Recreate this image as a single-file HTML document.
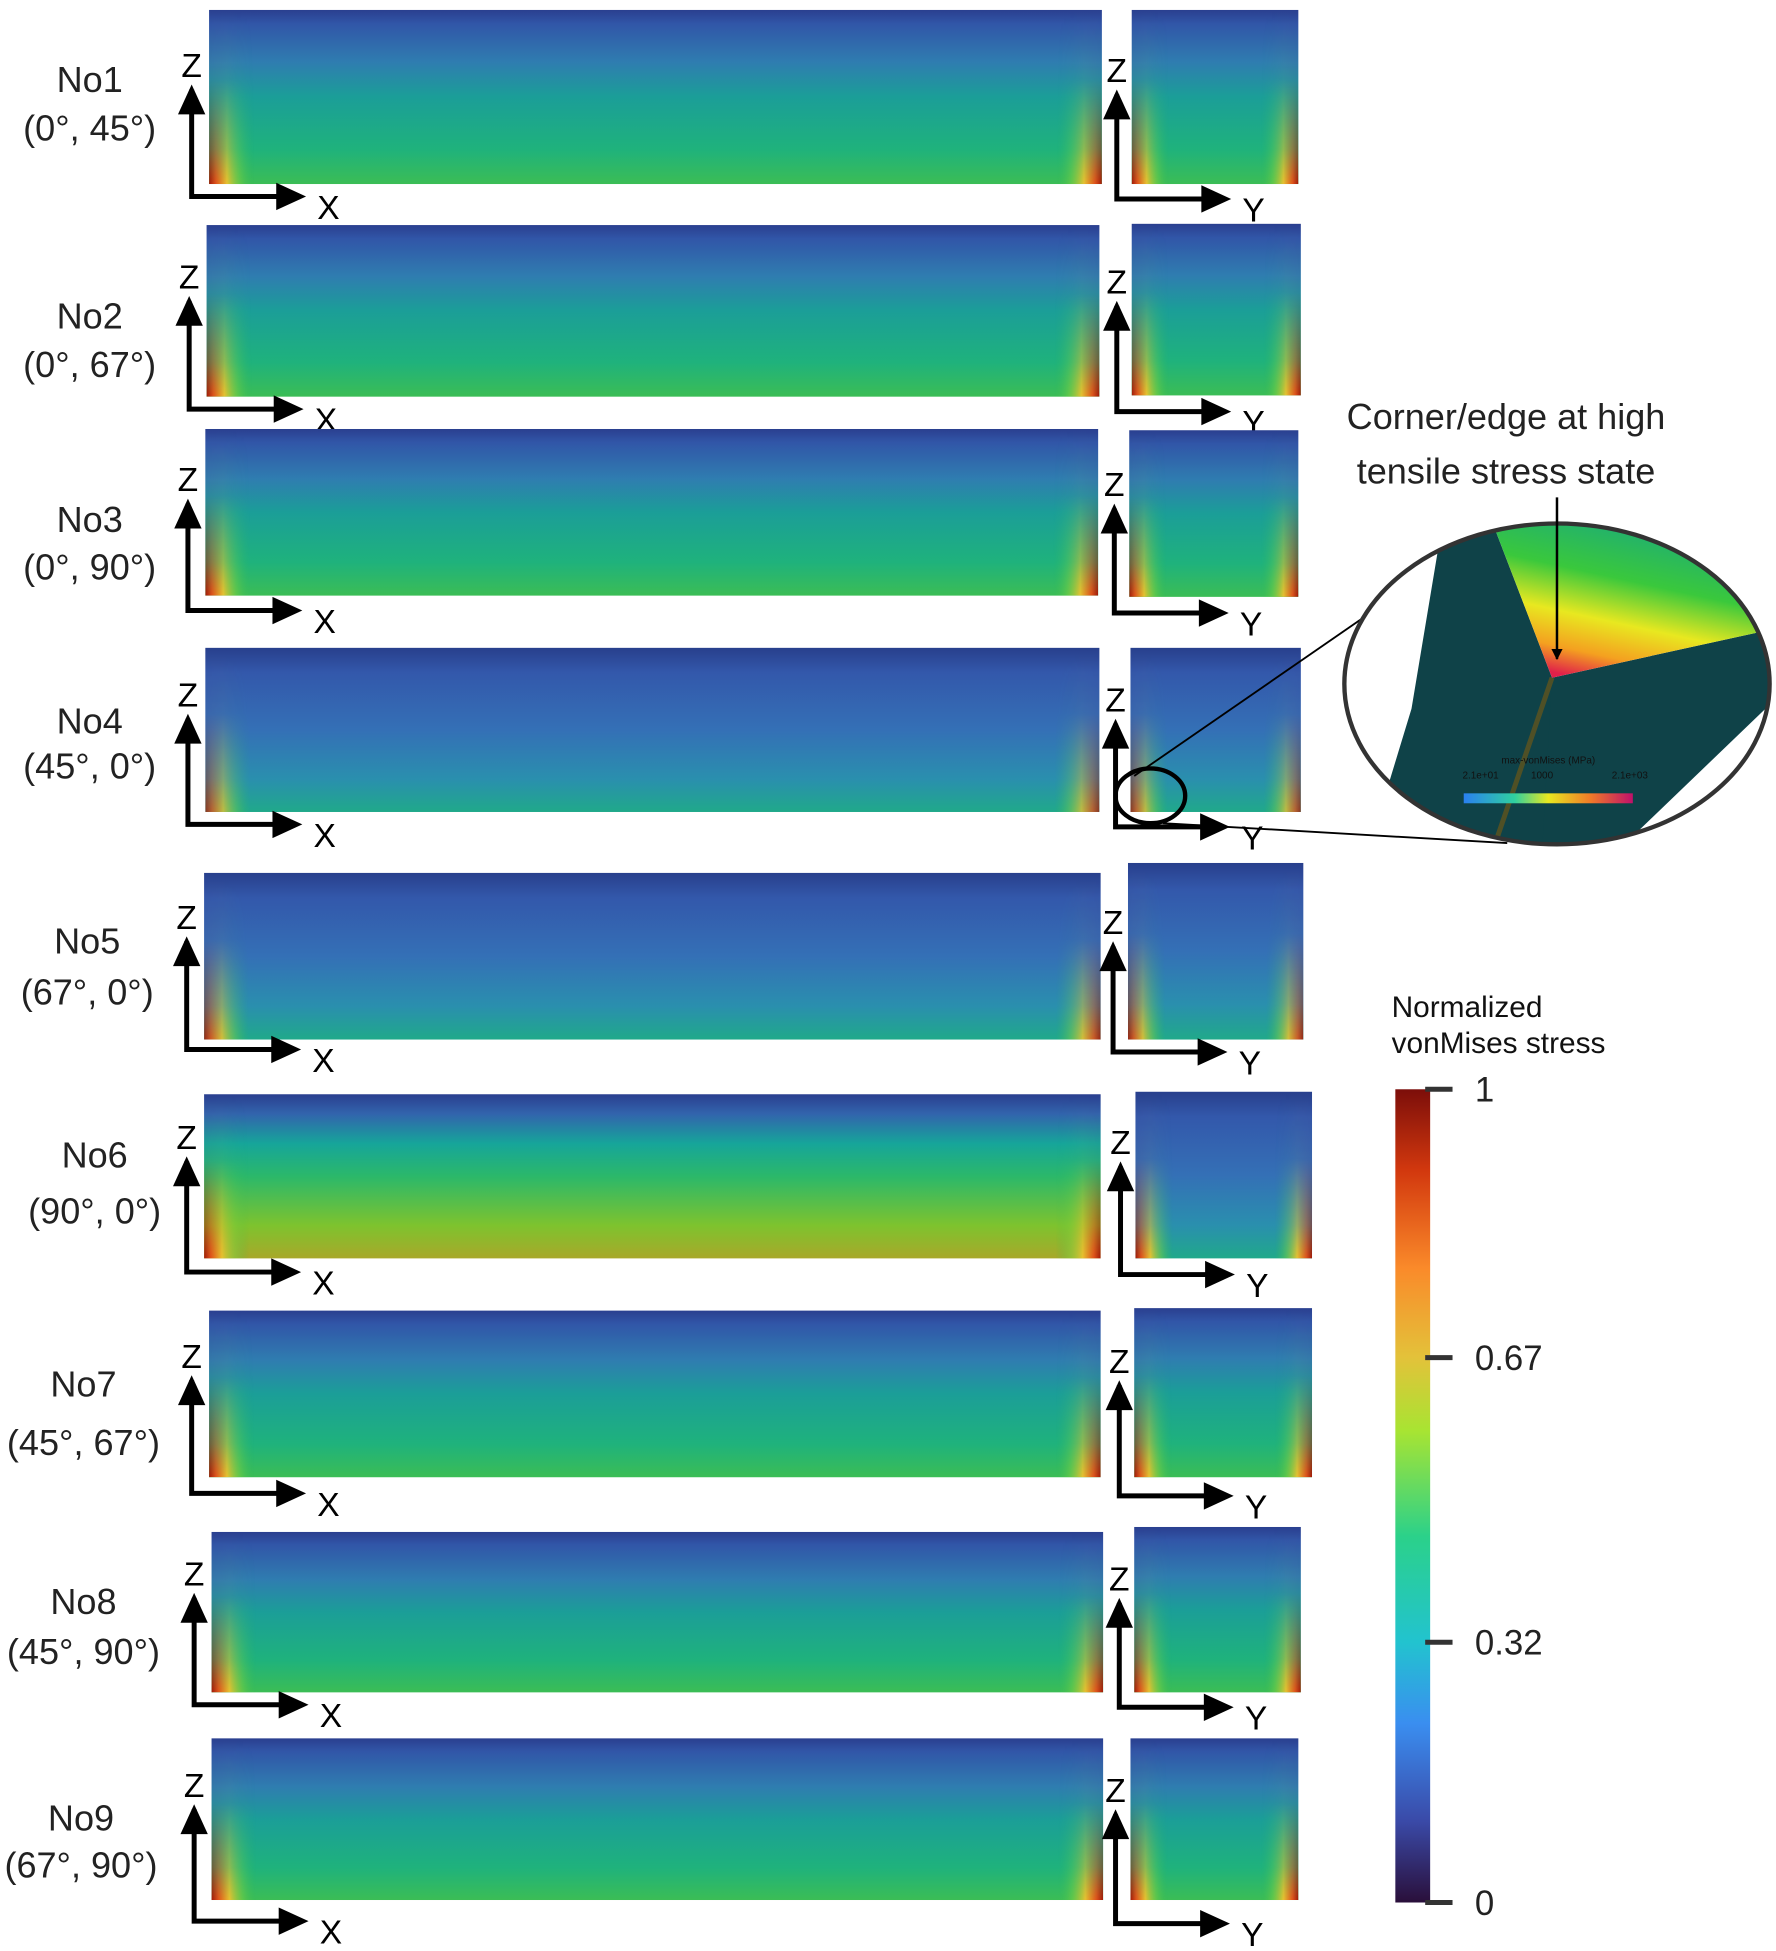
<!DOCTYPE html>
<html><head><meta charset="utf-8">
<style>
html,body{margin:0;padding:0;background:#fff;}
svg{display:block;}
text{font-family:"Liberation Sans","DejaVu Sans",sans-serif;}
</style></head>
<body>
<svg id="fig" width="1776" height="1951" viewBox="0 0 1428 1569" xmlns="http://www.w3.org/2000/svg">
<defs>
  <linearGradient id="gNormal" x1="0" y1="0" x2="0" y2="1">
    <stop offset="0" stop-color="#2a3f8f"/><stop offset="0.08" stop-color="#3156a8"/>
    <stop offset="0.3" stop-color="#2f7db0"/><stop offset="0.5" stop-color="#1b9e98"/>
    <stop offset="0.8" stop-color="#1fb27c"/><stop offset="1" stop-color="#3bbd55"/>
  </linearGradient>
  <linearGradient id="gBlue" x1="0" y1="0" x2="0" y2="1">
    <stop offset="0" stop-color="#283f8c"/><stop offset="0.15" stop-color="#3358ab"/>
    <stop offset="0.5" stop-color="#3470b6"/><stop offset="0.8" stop-color="#2a8fae"/>
    <stop offset="1" stop-color="#20a98a"/>
  </linearGradient>
  <linearGradient id="gGreen" x1="0" y1="0" x2="0" y2="1">
    <stop offset="0" stop-color="#2a3f8f"/><stop offset="0.12" stop-color="#3264ad"/>
    <stop offset="0.3" stop-color="#16a59a"/><stop offset="0.5" stop-color="#2bb86a"/>
    <stop offset="0.8" stop-color="#7ec32e"/><stop offset="1" stop-color="#a8a82a"/>
  </linearGradient>
  <linearGradient id="gEdgeL" x1="0" y1="0" x2="1" y2="0">
    <stop offset="0" stop-color="#a01808"/><stop offset="0.15" stop-color="#e0501a"/>
    <stop offset="0.4" stop-color="#e8c030"/><stop offset="0.7" stop-color="#7ed040" stop-opacity="0.5"/>
    <stop offset="1" stop-color="#3bbd55" stop-opacity="0"/>
  </linearGradient>
  <linearGradient id="gEdgeR" x1="1" y1="0" x2="0" y2="0">
    <stop offset="0" stop-color="#a01808"/><stop offset="0.15" stop-color="#e0501a"/>
    <stop offset="0.4" stop-color="#e8c030"/><stop offset="0.7" stop-color="#7ed040" stop-opacity="0.5"/>
    <stop offset="1" stop-color="#3bbd55" stop-opacity="0"/>
  </linearGradient>
  <linearGradient id="gFade" x1="0" y1="0" x2="0" y2="1">
    <stop offset="0" stop-color="#fff" stop-opacity="0"/><stop offset="0.4" stop-color="#fff" stop-opacity="0.05"/>
    <stop offset="0.8" stop-color="#fff" stop-opacity="0.55"/><stop offset="1" stop-color="#fff" stop-opacity="1"/>
  </linearGradient>
  <mask id="mFade" maskContentUnits="objectBoundingBox"><rect x="0" y="0" width="1" height="1" fill="url(#gFade)"/></mask>
  <linearGradient id="gBar" x1="0" y1="1" x2="0" y2="0">
    <stop offset="0" stop-color="#2a0f3a"/><stop offset="0.1" stop-color="#3a4aa8"/>
    <stop offset="0.22" stop-color="#3a8ef0"/><stop offset="0.32" stop-color="#22c3cf"/>
    <stop offset="0.45" stop-color="#2bd18a"/><stop offset="0.58" stop-color="#a8e432"/>
    <stop offset="0.67" stop-color="#e3c23a"/><stop offset="0.78" stop-color="#fa8a2a"/>
    <stop offset="0.9" stop-color="#d2380e"/><stop offset="1" stop-color="#7c0e0a"/>
  </linearGradient>
  <linearGradient id="gMini" x1="0" y1="0" x2="1" y2="0">
    <stop offset="0" stop-color="#2a80f0"/><stop offset="0.3" stop-color="#2fd0a0"/>
    <stop offset="0.5" stop-color="#e8e820"/><stop offset="0.75" stop-color="#f07a28"/>
    <stop offset="1" stop-color="#c0106a"/>
  </linearGradient>
  <linearGradient id="gWedge" x1="0.3" y1="1" x2="0.7" y2="0">
    <stop offset="0" stop-color="#e0204a"/><stop offset="0.15" stop-color="#f4a020"/>
    <stop offset="0.35" stop-color="#e8e820"/><stop offset="0.6" stop-color="#3ac83c"/>
    <stop offset="1" stop-color="#18a880"/>
  </linearGradient>
  <clipPath id="insetClip"><ellipse cx="1252" cy="550" rx="171" ry="129"/></clipPath>
  <marker id="ah" viewBox="0 0 10 10" refX="9" refY="5" markerWidth="4.5" markerHeight="4.5" orient="auto"><path d="M0,0 L10,5 L0,10 z" fill="#000"/></marker>
</defs>
<g id="panels"></g>
<g id="colorbar"></g>
<g id="inset">
  <ellipse cx="925" cy="640" rx="28" ry="22" fill="none" stroke="#000" stroke-width="3.5"/>
  <line x1="912" y1="624" x2="1135" y2="470" stroke="#000" stroke-width="1.5"/>
  <line x1="935" y1="662" x2="1212" y2="678" stroke="#000" stroke-width="1.5"/>
  <g clip-path="url(#insetClip)">
    <rect x="1080" y="420" width="350" height="265" fill="#fff"/>
    <polygon points="1135,570 1160,420 1200,420 1248,545 1280,685 1100,685" fill="#0f4248"/>
    <polygon points="1248,545 1430,505 1430,560 1300,685 1240,685" fill="#0f4248"/>
    <polygon points="1200,420 1430,420 1430,505 1248,545" fill="url(#gWedge)"/>
    <line x1="1248" y1="545" x2="1200" y2="685" stroke="#7a5a10" stroke-width="4" opacity="0.6"/>
    <text x="1245" y="614" font-size="8" text-anchor="middle" fill="#111">max-vonMises (MPa)</text>
    <text x="1176" y="626" font-size="8" fill="#111">2.1e+01</text>
    <text x="1240" y="626" font-size="8" text-anchor="middle" fill="#111">1000</text>
    <text x="1296" y="626" font-size="8" fill="#111">2.1e+03</text>
    <rect x="1177" y="638" width="136" height="8" fill="url(#gMini)"/>
  </g>
  <ellipse cx="1252" cy="550" rx="171" ry="129" fill="none" stroke="#333" stroke-width="3.5"/>
  <text x="1211" y="345" font-size="29" text-anchor="middle" fill="#222">Corner/edge at high</text>
  <text x="1211" y="389" font-size="29" text-anchor="middle" fill="#222">tensile stress state</text>
  <line x1="1252" y1="400" x2="1252" y2="530" stroke="#000" stroke-width="2" marker-end="url(#ah)"/>
</g>
<script>
const ns="http://www.w3.org/2000/svg";
const rowNames=["No1","No2","No3","No4","No5","No6","No7","No8","No9"];
const rowAngles=["(0°, 45°)","(0°, 67°)","(0°, 90°)","(45°, 0°)","(67°, 0°)","(90°, 0°)","(45°, 67°)","(45°, 90°)","(67°, 90°)"];
const mainStyle=["gNormal","gNormal","gNormal","gBlue","gBlue","gGreen","gNormal","gNormal","gNormal"];
const sideStyle=["gNormal","gNormal","gNormal","gBlue","gBlue","gBlue","gNormal","gNormal","gNormal"];
const cornerStress=[1,1,1,0.8,0.9,1,1,1,1];
const colorbarTicks=[1,0.67,0.32,0];
const colorbarLabels=["1","0.67","0.32","0"];
const mainBox=[[168,8,886,148],[166,181,884,319],[165,345,883,479],[165,521,884,653],[164,702,885,836],[164,880,885,1012],[168,1054,885,1188],[170,1232,887,1361],[170,1398,887,1528]];
const sideBox=[[910,8,1044,148],[910,180,1046,318],[908,346,1044,480],[909,521,1046,653],[907,694,1048,836],[913,878,1055,1012],[912,1052,1055,1188],[912,1228,1046,1361],[909,1398,1044,1528]];
const labelY=[[64,103],[254,293],[418,456],[580,616],[757,798],[929,974],[1113,1160],[1288,1328],[1462,1500]];
const labelX=[72,72,72,72,70,76,67,67,65];
const corner=[158,329,491,663,844,1023,1201,1371,1545];
const zLabelY=[50,220,383,556,735,912,1088,1263,1433];
const P=document.getElementById("panels");
function el(t,a,p){const e=document.createElementNS(ns,t);for(const k in a)e.setAttribute(k,a[k]);(p||P).appendChild(e);return e;}
function panel(b,style,s,name,w){
  const [x1,y1,x2,y2]=b;
  const g=el("g",{});
  
  
  el("rect",{x:x1,y:y1,width:x2-x1,height:y2-y1,fill:"url(#"+style+")"},g);
  const m=el("g",{mask:"url(#mFade)",opacity:s},g);
  el("rect",{x:x1,y:y1,width:w,height:y2-y1,fill:"url(#gEdgeL)"},m);
  el("rect",{x:x2-w,y:y1,width:w,height:y2-y1,fill:"url(#gEdgeR)"},m);
}
function axes(ax,cy,zy,len,lab,i,kind){
  const g=el("g",{});
  
  
  el("path",{d:`M${ax},${zy+22} L${ax},${cy} L${ax+len-18},${cy}`,fill:"none",stroke:"#000","stroke-width":4},g);
  el("polygon",{points:`${ax},${zy+18} ${ax-11},${zy+42} ${ax+11},${zy+42}`,fill:"#000"},g);
  el("polygon",{points:`${ax+len},${cy} ${ax+len-24},${cy-11} ${ax+len-24},${cy+11}`,fill:"#000"},g);
  const z=el("text",{x:ax,y:zy+12,"font-size":27,"text-anchor":"middle",fill:"#000"},g);z.textContent="Z";
  const t=el("text",{x:ax+len+18,y:cy+18,"font-size":27,"text-anchor":"middle",fill:"#000"},g);t.textContent=lab;
}
rowNames.forEach((n,i)=>{
  const mb=mainBox[i],sb=sideBox[i];
  panel(mb,mainStyle[i],cornerStress[i],"xz-contour-"+n.toLowerCase(),36);
  panel(sb,sideStyle[i],cornerStress[i],"yz-contour-"+n.toLowerCase(),30);
  const t1=el("text",{x:labelX[i],y:labelY[i][0]+10,"font-size":29,"text-anchor":"middle",fill:"#222"});
  
  
  t1.textContent=n;
  const t2=el("text",{x:labelX[i],y:labelY[i][1]+10,"font-size":29,"text-anchor":"middle",fill:"#222"});
  
  
  t2.textContent=rowAngles[i];
  axes(mb[0]-14,corner[i],zLabelY[i],92,"X",i,"xz");
  axes(sb[0]-12,corner[i]+2,zLabelY[i]+4,92,"Y",i,"yz");
});
const CB=document.getElementById("colorbar");
const cbX=1122,cbTop=876,cbBot=1530,cbW=28;
function yScale(v){return cbBot-(cbBot-cbTop)*v;}
const bar=el("rect",{x:cbX,y:cbTop,width:cbW,height:cbBot-cbTop,fill:"url(#gBar)"},CB);


const tt1=el("text",{x:1119,y:818,"font-size":24,fill:"#111"},CB);


tt1.textContent="Normalized";
const tt2=el("text",{x:1119,y:847,"font-size":24,fill:"#111"},CB);


tt2.textContent="vonMises stress";
colorbarTicks.forEach((v,i)=>{
  const y=yScale(v);
  const tk=el("line",{x1:cbX+24,y1:y,x2:cbX+46,y2:y,stroke:"#333","stroke-width":4},CB);
  
  
  const lb=el("text",{x:cbX+64,y:y+10,"font-size":28,fill:"#222"},CB);
  
  
  lb.textContent=colorbarLabels[i];
});
</script>
</svg>
</body></html>
